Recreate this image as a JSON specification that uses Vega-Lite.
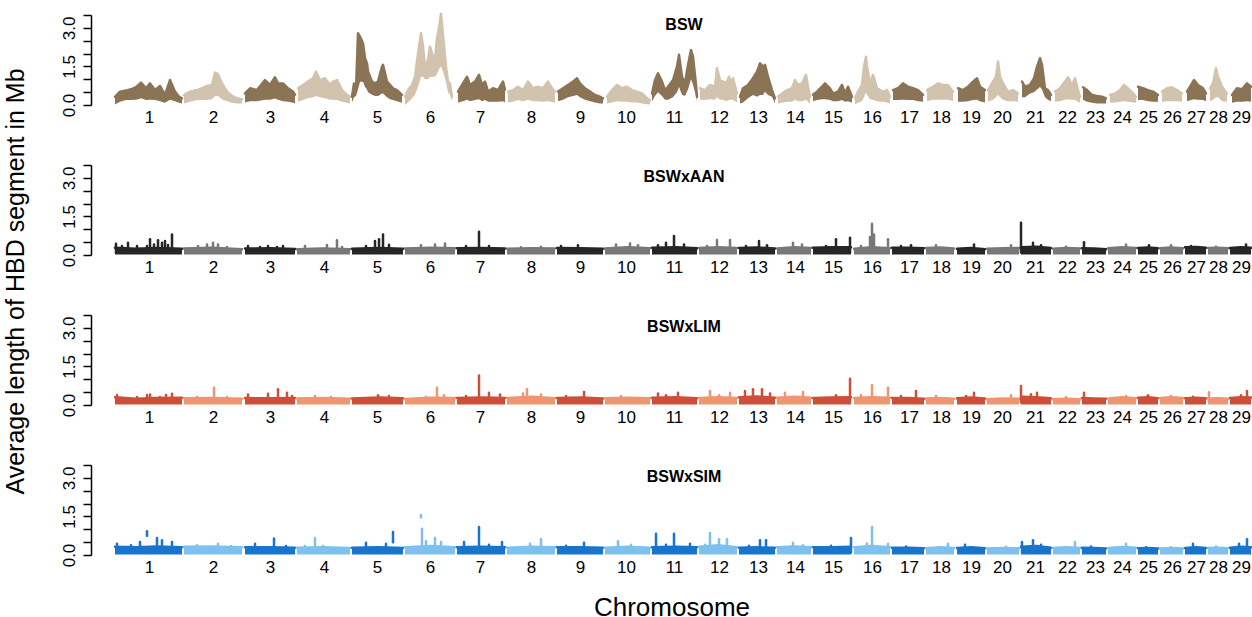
{
"$schema":"https://vega.github.io/schema/vega-lite/v6.json",
"background":"white",
"padding":{"left":3,"top":12,"right":0,"bottom":0},
"config":{"font":"Liberation Sans","view":{"stroke":null},"concat":{"spacing":39},
"axisX":{"title":null,"labelExpr":"indexof([58,122,179,233,286,339,389,440,489,535,583,628,667,704,742,781,818,850,880,911,944,976,1004,1031,1057,1081,1105,1127,1150], datum.value)+1","domain":false,"ticks":false,"grid":false,"labelPadding":4,"labelFontSize":17,"labelColor":"black","labelOverlap":false,"labelFlush":false,"labelBound":false},
"axisY":{"title":null,"labelExpr":"datum.value==0||datum.value==1.5||datum.value==3 ? format(datum.value,'.1f') : ''","labelAngle":-90,"labelAlign":"center","labelBaseline":"alphabetic","labelPadding":9,"labelFontSize":17,"labelColor":"black","tickSize":8,"tickWidth":1.5,"tickColor":"black","domainColor":"black","domainWidth":1.5,"grid":false}
},
"title":{"text":"Average length of HBD segment in Mb","orient":"left","anchor":"middle","frame":"bounds","fontSize":25,"fontWeight":"normal","color":"black","baseline":"alphabetic","offset":11,"dx":35,"dy":0},
"datasets":{
"bsw":[
{"c":1,"x":24,"hi":0.32,"lo":0.02},{"c":1,"x":29,"hi":0.52,"lo":0.13},{"c":1,"x":35,"hi":0.56,"lo":0.19},{"c":1,"x":40,"hi":0.61,"lo":0.19},{"c":1,"x":45,"hi":0.69,"lo":0.2},{"c":1,"x":50,"hi":0.87,"lo":0.26},{"c":1,"x":55,"hi":0.65,"lo":0.19},{"c":1,"x":59,"hi":0.84,"lo":0.2},{"c":1,"x":64,"hi":0.58,"lo":0.19},{"c":1,"x":69,"hi":0.74,"lo":0.15},{"c":1,"x":74,"hi":0.39,"lo":0.09},{"c":1,"x":79,"hi":0.97,"lo":0.2},{"c":1,"x":84,"hi":0.52,"lo":0.15},{"c":1,"x":88,"hi":0.32,"lo":0.09},{"c":1,"x":91,"hi":0.26,"lo":0.06},
{"c":2,"x":93,"hi":0.39,"lo":0.06},{"c":2,"x":99,"hi":0.52,"lo":0.13},{"c":2,"x":106,"hi":0.58,"lo":0.19},{"c":2,"x":111,"hi":0.65,"lo":0.19},{"c":2,"x":116,"hi":0.74,"lo":0.19},{"c":2,"x":121,"hi":0.78,"lo":0.22},{"c":2,"x":124,"hi":1.26,"lo":0.35},{"c":2,"x":127,"hi":1.2,"lo":0.35},{"c":2,"x":131,"hi":0.84,"lo":0.22},{"c":2,"x":136,"hi":0.52,"lo":0.15},{"c":2,"x":141,"hi":0.35,"lo":0.09},{"c":2,"x":146,"hi":0.26,"lo":0.06},{"c":2,"x":151,"hi":0.22,"lo":0.06},
{"c":3,"x":154,"hi":0.45,"lo":0.1},{"c":3,"x":159,"hi":0.65,"lo":0.15},{"c":3,"x":166,"hi":0.58,"lo":0.15},{"c":3,"x":174,"hi":0.97,"lo":0.2},{"c":3,"x":179,"hi":0.78,"lo":0.2},{"c":3,"x":184,"hi":1.08,"lo":0.25},{"c":3,"x":187,"hi":0.84,"lo":0.2},{"c":3,"x":192,"hi":0.84,"lo":0.15},{"c":3,"x":197,"hi":0.65,"lo":0.13},{"c":3,"x":202,"hi":0.52,"lo":0.09},{"c":3,"x":204,"hi":0.4,"lo":0.06},
{"c":4,"x":207,"hi":0.65,"lo":0.13},{"c":4,"x":212,"hi":0.78,"lo":0.19},{"c":4,"x":217,"hi":0.91,"lo":0.26},{"c":4,"x":222,"hi":1.04,"lo":0.3},{"c":4,"x":225,"hi":1.3,"lo":0.35},{"c":4,"x":229,"hi":0.97,"lo":0.3},{"c":4,"x":234,"hi":1.04,"lo":0.26},{"c":4,"x":239,"hi":0.78,"lo":0.2},{"c":4,"x":242,"hi":0.91,"lo":0.2},{"c":4,"x":246,"hi":0.97,"lo":0.19},{"c":4,"x":251,"hi":0.58,"lo":0.13},{"c":4,"x":256,"hi":0.39,"lo":0.09},{"c":4,"x":259,"hi":0.32,"lo":0.06},
{"c":5,"x":261,"hi":0.32,"lo":0.1},{"c":5,"x":263,"hi":0.84,"lo":0.3},{"c":5,"x":265,"hi":0.6,"lo":0.35},{"c":5,"x":267,"hi":2.79,"lo":0.6},{"c":5,"x":269,"hi":2.66,"lo":0.9},{"c":5,"x":272,"hi":2.4,"lo":0.9},{"c":5,"x":274,"hi":1.82,"lo":0.7},{"c":5,"x":276,"hi":1.62,"lo":0.6},{"c":5,"x":277,"hi":1.3,"lo":0.5},{"c":5,"x":281,"hi":0.91,"lo":0.4},{"c":5,"x":284,"hi":0.84,"lo":0.35},{"c":5,"x":287,"hi":0.91,"lo":0.35},{"c":5,"x":291,"hi":1.49,"lo":0.45},{"c":5,"x":292,"hi":1.56,"lo":0.45},{"c":5,"x":296,"hi":0.91,"lo":0.3},{"c":5,"x":299,"hi":0.78,"lo":0.22},{"c":5,"x":302,"hi":0.65,"lo":0.19},{"c":5,"x":306,"hi":0.58,"lo":0.15},{"c":5,"x":311,"hi":0.39,"lo":0.09},
{"c":6,"x":314,"hi":0.32,"lo":0.0},{"c":6,"x":317,"hi":0.58,"lo":0.1},{"c":6,"x":321,"hi":0.78,"lo":0.25},{"c":6,"x":324,"hi":1.1,"lo":0.4},{"c":6,"x":327,"hi":2.0,"lo":0.7},{"c":6,"x":330,"hi":2.79,"lo":1.1},{"c":6,"x":332,"hi":2.27,"lo":1.1},{"c":6,"x":334,"hi":1.49,"lo":1.0},{"c":6,"x":337,"hi":1.75,"lo":1.0},{"c":6,"x":339,"hi":2.27,"lo":1.1},{"c":6,"x":342,"hi":1.88,"lo":1.1},{"c":6,"x":344,"hi":1.82,"lo":1.1},{"c":6,"x":346,"hi":2.6,"lo":1.2},{"c":6,"x":348,"hi":2.98,"lo":1.4},{"c":6,"x":350,"hi":3.55,"lo":1.5},{"c":6,"x":352,"hi":2.72,"lo":1.3},{"c":6,"x":355,"hi":1.49,"lo":0.9},{"c":6,"x":357,"hi":0.91,"lo":0.5},{"c":6,"x":359,"hi":0.84,"lo":0.4},{"c":6,"x":361,"hi":0.32,"lo":0.15},
{"c":7,"x":367,"hi":0.52,"lo":0.1},{"c":7,"x":372,"hi":0.84,"lo":0.15},{"c":7,"x":376,"hi":1.1,"lo":0.2},{"c":7,"x":379,"hi":0.78,"lo":0.15},{"c":7,"x":384,"hi":0.91,"lo":0.19},{"c":7,"x":388,"hi":1.17,"lo":0.22},{"c":7,"x":391,"hi":0.78,"lo":0.15},{"c":7,"x":394,"hi":0.91,"lo":0.19},{"c":7,"x":397,"hi":0.52,"lo":0.13},{"c":7,"x":402,"hi":0.65,"lo":0.13},{"c":7,"x":407,"hi":0.58,"lo":0.13},{"c":7,"x":412,"hi":0.91,"lo":0.15},{"c":7,"x":414,"hi":0.6,"lo":0.1},
{"c":8,"x":417,"hi":0.52,"lo":0.1},{"c":8,"x":422,"hi":0.58,"lo":0.13},{"c":8,"x":427,"hi":0.71,"lo":0.19},{"c":8,"x":432,"hi":0.58,"lo":0.15},{"c":8,"x":437,"hi":0.91,"lo":0.2},{"c":8,"x":442,"hi":0.65,"lo":0.15},{"c":8,"x":447,"hi":0.71,"lo":0.15},{"c":8,"x":452,"hi":0.65,"lo":0.13},{"c":8,"x":457,"hi":0.91,"lo":0.15},{"c":8,"x":461,"hi":0.65,"lo":0.12},{"c":8,"x":464,"hi":0.52,"lo":0.09},
{"c":9,"x":467,"hi":0.52,"lo":0.15},{"c":9,"x":472,"hi":0.65,"lo":0.2},{"c":9,"x":477,"hi":0.78,"lo":0.3},{"c":9,"x":482,"hi":0.91,"lo":0.35},{"c":9,"x":486,"hi":1.04,"lo":0.39},{"c":9,"x":489,"hi":0.84,"lo":0.3},{"c":9,"x":494,"hi":0.65,"lo":0.2},{"c":9,"x":499,"hi":0.52,"lo":0.15},{"c":9,"x":504,"hi":0.39,"lo":0.1},{"c":9,"x":509,"hi":0.32,"lo":0.06},{"c":9,"x":512,"hi":0.26,"lo":0.06},
{"c":10,"x":516,"hi":0.32,"lo":0.06},{"c":10,"x":521,"hi":0.58,"lo":0.1},{"c":10,"x":526,"hi":0.78,"lo":0.15},{"c":10,"x":531,"hi":0.65,"lo":0.13},{"c":10,"x":536,"hi":0.71,"lo":0.13},{"c":10,"x":541,"hi":0.58,"lo":0.1},{"c":10,"x":546,"hi":0.52,"lo":0.1},{"c":10,"x":551,"hi":0.45,"lo":0.06},{"c":10,"x":556,"hi":0.26,"lo":0.03},{"c":10,"x":559,"hi":0.19,"lo":0.02},
{"c":11,"x":561,"hi":0.45,"lo":0.15},{"c":11,"x":564,"hi":0.97,"lo":0.35},{"c":11,"x":567,"hi":1.23,"lo":0.5},{"c":11,"x":571,"hi":0.91,"lo":0.35},{"c":11,"x":574,"hi":0.58,"lo":0.2},{"c":11,"x":577,"hi":0.71,"lo":0.2},{"c":11,"x":582,"hi":0.97,"lo":0.3},{"c":11,"x":586,"hi":1.49,"lo":0.5},{"c":11,"x":588,"hi":1.95,"lo":0.7},{"c":11,"x":591,"hi":1.1,"lo":0.4},{"c":11,"x":594,"hi":0.84,"lo":0.35},{"c":11,"x":597,"hi":1.56,"lo":0.6},{"c":11,"x":600,"hi":2.14,"lo":1.0},{"c":11,"x":602,"hi":1.88,"lo":0.8},{"c":11,"x":605,"hi":0.78,"lo":0.35},{"c":11,"x":606,"hi":0.32,"lo":0.15},
{"c":12,"x":609,"hi":0.65,"lo":0.2},{"c":12,"x":614,"hi":0.58,"lo":0.19},{"c":12,"x":619,"hi":0.78,"lo":0.22},{"c":12,"x":624,"hi":0.71,"lo":0.2},{"c":12,"x":626,"hi":1.43,"lo":0.3},{"c":12,"x":629,"hi":0.97,"lo":0.2},{"c":12,"x":632,"hi":0.91,"lo":0.2},{"c":12,"x":635,"hi":0.84,"lo":0.15},{"c":12,"x":638,"hi":1.1,"lo":0.19},{"c":12,"x":640,"hi":0.84,"lo":0.2},{"c":12,"x":642,"hi":1.04,"lo":0.2},{"c":12,"x":646,"hi":0.45,"lo":0.1},
{"c":13,"x":649,"hi":0.32,"lo":0.06},{"c":13,"x":652,"hi":0.65,"lo":0.1},{"c":13,"x":657,"hi":0.78,"lo":0.26},{"c":13,"x":662,"hi":1.04,"lo":0.39},{"c":13,"x":666,"hi":1.3,"lo":0.32},{"c":13,"x":669,"hi":1.62,"lo":0.39},{"c":13,"x":672,"hi":1.49,"lo":0.39},{"c":13,"x":674,"hi":1.56,"lo":0.52},{"c":13,"x":677,"hi":1.1,"lo":0.39},{"c":13,"x":681,"hi":0.58,"lo":0.32},{"c":13,"x":684,"hi":0.26,"lo":0.06},
{"c":14,"x":687,"hi":0.32,"lo":0.06},{"c":14,"x":691,"hi":0.45,"lo":0.09},{"c":14,"x":696,"hi":0.58,"lo":0.13},{"c":14,"x":701,"hi":0.65,"lo":0.13},{"c":14,"x":704,"hi":0.97,"lo":0.2},{"c":14,"x":707,"hi":0.78,"lo":0.15},{"c":14,"x":711,"hi":0.84,"lo":0.15},{"c":14,"x":715,"hi":1.17,"lo":0.2},{"c":14,"x":717,"hi":0.71,"lo":0.13},{"c":14,"x":719,"hi":0.32,"lo":0.06},
{"c":15,"x":722,"hi":0.4,"lo":0.15},{"c":15,"x":726,"hi":0.52,"lo":0.19},{"c":15,"x":731,"hi":0.71,"lo":0.22},{"c":15,"x":734,"hi":0.84,"lo":0.22},{"c":15,"x":739,"hi":0.65,"lo":0.19},{"c":15,"x":742,"hi":0.45,"lo":0.15},{"c":15,"x":747,"hi":0.52,"lo":0.15},{"c":15,"x":751,"hi":0.78,"lo":0.19},{"c":15,"x":754,"hi":0.45,"lo":0.13},{"c":15,"x":757,"hi":0.71,"lo":0.15},{"c":15,"x":761,"hi":0.32,"lo":0.09},
{"c":16,"x":764,"hi":0.26,"lo":0.03},{"c":16,"x":767,"hi":0.52,"lo":0.09},{"c":16,"x":771,"hi":0.78,"lo":0.15},{"c":16,"x":773,"hi":1.49,"lo":0.3},{"c":16,"x":775,"hi":1.88,"lo":0.5},{"c":16,"x":776,"hi":1.49,"lo":0.4},{"c":16,"x":779,"hi":0.84,"lo":0.22},{"c":16,"x":782,"hi":1.17,"lo":0.2},{"c":16,"x":786,"hi":0.65,"lo":0.15},{"c":16,"x":789,"hi":0.58,"lo":0.13},{"c":16,"x":792,"hi":0.52,"lo":0.13},{"c":16,"x":796,"hi":0.58,"lo":0.1},{"c":16,"x":799,"hi":0.32,"lo":0.06},
{"c":17,"x":802,"hi":0.58,"lo":0.19},{"c":17,"x":807,"hi":0.65,"lo":0.19},{"c":17,"x":812,"hi":0.84,"lo":0.2},{"c":17,"x":817,"hi":0.71,"lo":0.19},{"c":17,"x":822,"hi":0.65,"lo":0.19},{"c":17,"x":827,"hi":0.58,"lo":0.15},{"c":17,"x":832,"hi":0.39,"lo":0.13},
{"c":18,"x":836,"hi":0.58,"lo":0.15},{"c":18,"x":842,"hi":0.71,"lo":0.2},{"c":18,"x":847,"hi":0.84,"lo":0.2},{"c":18,"x":852,"hi":0.78,"lo":0.2},{"c":18,"x":857,"hi":0.78,"lo":0.2},{"c":18,"x":862,"hi":0.52,"lo":0.15},
{"c":19,"x":867,"hi":0.65,"lo":0.13},{"c":19,"x":872,"hi":0.58,"lo":0.13},{"c":19,"x":877,"hi":0.71,"lo":0.15},{"c":19,"x":882,"hi":0.91,"lo":0.19},{"c":19,"x":886,"hi":1.04,"lo":0.2},{"c":19,"x":889,"hi":0.71,"lo":0.15},{"c":19,"x":894,"hi":0.58,"lo":0.1},
{"c":20,"x":897,"hi":0.58,"lo":0.13},{"c":20,"x":902,"hi":0.91,"lo":0.2},{"c":20,"x":905,"hi":1.1,"lo":0.3},{"c":20,"x":907,"hi":1.69,"lo":0.4},{"c":20,"x":909,"hi":1.1,"lo":0.3},{"c":20,"x":912,"hi":0.84,"lo":0.2},{"c":20,"x":917,"hi":0.52,"lo":0.15},{"c":20,"x":922,"hi":0.58,"lo":0.15},{"c":20,"x":927,"hi":0.45,"lo":0.13},
{"c":21,"x":931,"hi":0.91,"lo":0.3},{"c":21,"x":934,"hi":0.71,"lo":0.3},{"c":21,"x":939,"hi":0.78,"lo":0.45},{"c":21,"x":943,"hi":1.04,"lo":0.5},{"c":21,"x":946,"hi":1.49,"lo":0.6},{"c":21,"x":949,"hi":1.82,"lo":0.7},{"c":21,"x":951,"hi":1.56,"lo":0.6},{"c":21,"x":954,"hi":0.65,"lo":0.3},{"c":21,"x":957,"hi":0.58,"lo":0.2},{"c":21,"x":960,"hi":0.39,"lo":0.15},
{"c":22,"x":964,"hi":0.52,"lo":0.13},{"c":22,"x":969,"hi":0.65,"lo":0.15},{"c":22,"x":974,"hi":0.91,"lo":0.2},{"c":22,"x":977,"hi":1.08,"lo":0.22},{"c":22,"x":981,"hi":0.78,"lo":0.2},{"c":22,"x":984,"hi":1.04,"lo":0.2},{"c":22,"x":987,"hi":0.58,"lo":0.13},{"c":22,"x":989,"hi":0.32,"lo":0.09},
{"c":23,"x":992,"hi":0.69,"lo":0.2},{"c":23,"x":996,"hi":0.58,"lo":0.13},{"c":23,"x":1001,"hi":0.39,"lo":0.09},{"c":23,"x":1006,"hi":0.35,"lo":0.06},{"c":23,"x":1011,"hi":0.32,"lo":0.06},{"c":23,"x":1015,"hi":0.26,"lo":0.06},
{"c":24,"x":1019,"hi":0.39,"lo":0.09},{"c":24,"x":1024,"hi":0.45,"lo":0.1},{"c":24,"x":1029,"hi":0.58,"lo":0.13},{"c":24,"x":1033,"hi":0.78,"lo":0.15},{"c":24,"x":1037,"hi":0.65,"lo":0.13},{"c":24,"x":1042,"hi":0.45,"lo":0.1},{"c":24,"x":1045,"hi":0.32,"lo":0.09},
{"c":25,"x":1047,"hi":0.71,"lo":0.19},{"c":25,"x":1052,"hi":0.65,"lo":0.19},{"c":25,"x":1057,"hi":0.58,"lo":0.15},{"c":25,"x":1062,"hi":0.52,"lo":0.13},{"c":25,"x":1067,"hi":0.39,"lo":0.13},
{"c":26,"x":1071,"hi":0.52,"lo":0.13},{"c":26,"x":1076,"hi":0.65,"lo":0.15},{"c":26,"x":1081,"hi":0.69,"lo":0.15},{"c":26,"x":1086,"hi":0.58,"lo":0.15},{"c":26,"x":1091,"hi":0.45,"lo":0.13},
{"c":27,"x":1096,"hi":0.52,"lo":0.15},{"c":27,"x":1101,"hi":0.84,"lo":0.2},{"c":27,"x":1103,"hi":0.97,"lo":0.22},{"c":27,"x":1107,"hi":0.78,"lo":0.2},{"c":27,"x":1112,"hi":0.65,"lo":0.19},{"c":27,"x":1115,"hi":0.45,"lo":0.15},
{"c":28,"x":1119,"hi":0.65,"lo":0.15},{"c":28,"x":1122,"hi":0.84,"lo":0.2},{"c":28,"x":1125,"hi":1.43,"lo":0.3},{"c":28,"x":1127,"hi":1.1,"lo":0.3},{"c":28,"x":1131,"hi":0.71,"lo":0.15},{"c":28,"x":1136,"hi":0.45,"lo":0.13},
{"c":29,"x":1141,"hi":0.39,"lo":0.09},{"c":29,"x":1146,"hi":0.65,"lo":0.13},{"c":29,"x":1151,"hi":0.61,"lo":0.13},{"c":29,"x":1156,"hi":0.84,"lo":0.15},{"c":29,"x":1160,"hi":0.71,"lo":0.13}
],
"aan":[
{"c":1,"x":24,"hi":0.28,"lo":0.02},{"c":1,"x":45,"hi":0.24,"lo":0.02},{"c":1,"x":65,"hi":0.27,"lo":0.02},{"c":1,"x":91,"hi":0.24,"lo":0.02},
{"c":2,"x":93,"hi":0.25,"lo":0.02},{"c":2,"x":120,"hi":0.28,"lo":0.02},{"c":2,"x":151,"hi":0.22,"lo":0.02},
{"c":3,"x":154,"hi":0.25,"lo":0.02},{"c":3,"x":180,"hi":0.26,"lo":0.02},{"c":3,"x":204,"hi":0.23,"lo":0.02},
{"c":4,"x":206,"hi":0.22,"lo":0.02},{"c":4,"x":232,"hi":0.25,"lo":0.02},{"c":4,"x":259,"hi":0.22,"lo":0.02},
{"c":5,"x":261,"hi":0.24,"lo":0.02},{"c":5,"x":288,"hi":0.27,"lo":0.02},{"c":5,"x":312,"hi":0.24,"lo":0.02},
{"c":6,"x":314,"hi":0.25,"lo":0.02},{"c":6,"x":340,"hi":0.28,"lo":0.02},{"c":6,"x":364,"hi":0.26,"lo":0.02},
{"c":7,"x":366,"hi":0.26,"lo":0.02},{"c":7,"x":390,"hi":0.27,"lo":0.02},{"c":7,"x":414,"hi":0.25,"lo":0.02},
{"c":8,"x":416,"hi":0.24,"lo":0.02},{"c":8,"x":440,"hi":0.26,"lo":0.02},{"c":8,"x":464,"hi":0.25,"lo":0.02},
{"c":9,"x":466,"hi":0.27,"lo":0.02},{"c":9,"x":490,"hi":0.26,"lo":0.02},{"c":9,"x":512,"hi":0.24,"lo":0.02},
{"c":10,"x":514,"hi":0.25,"lo":0.02},{"c":10,"x":537,"hi":0.3,"lo":0.02},{"c":10,"x":559,"hi":0.26,"lo":0.02},
{"c":11,"x":561,"hi":0.28,"lo":0.02},{"c":11,"x":585,"hi":0.3,"lo":0.02},{"c":11,"x":606,"hi":0.26,"lo":0.02},
{"c":12,"x":608,"hi":0.27,"lo":0.02},{"c":12,"x":627,"hi":0.3,"lo":0.02},{"c":12,"x":646,"hi":0.27,"lo":0.02},
{"c":13,"x":648,"hi":0.27,"lo":0.02},{"c":13,"x":666,"hi":0.29,"lo":0.02},{"c":13,"x":684,"hi":0.25,"lo":0.02},
{"c":14,"x":686,"hi":0.25,"lo":0.02},{"c":14,"x":703,"hi":0.3,"lo":0.02},{"c":14,"x":720,"hi":0.27,"lo":0.02},
{"c":15,"x":722,"hi":0.28,"lo":0.02},{"c":15,"x":741,"hi":0.3,"lo":0.02},{"c":15,"x":760,"hi":0.3,"lo":0.02},
{"c":16,"x":763,"hi":0.24,"lo":0.02},{"c":16,"x":781,"hi":0.3,"lo":0.02},{"c":16,"x":799,"hi":0.26,"lo":0.02},
{"c":17,"x":801,"hi":0.28,"lo":0.02},{"c":17,"x":817,"hi":0.28,"lo":0.02},{"c":17,"x":833,"hi":0.26,"lo":0.02},
{"c":18,"x":835,"hi":0.27,"lo":0.02},{"c":18,"x":849,"hi":0.29,"lo":0.02},{"c":18,"x":863,"hi":0.25,"lo":0.02},
{"c":19,"x":866,"hi":0.24,"lo":0.02},{"c":19,"x":880,"hi":0.27,"lo":0.02},{"c":19,"x":894,"hi":0.22,"lo":0.02},
{"c":20,"x":896,"hi":0.24,"lo":0.02},{"c":20,"x":912,"hi":0.26,"lo":0.02},{"c":20,"x":928,"hi":0.27,"lo":0.02},
{"c":21,"x":930,"hi":0.3,"lo":0.02},{"c":21,"x":945,"hi":0.32,"lo":0.02},{"c":21,"x":960,"hi":0.27,"lo":0.02},
{"c":22,"x":962,"hi":0.24,"lo":0.02},{"c":22,"x":975,"hi":0.27,"lo":0.02},{"c":22,"x":989,"hi":0.25,"lo":0.02},
{"c":23,"x":991,"hi":0.26,"lo":0.02},{"c":23,"x":1003,"hi":0.25,"lo":0.02},{"c":23,"x":1015,"hi":0.22,"lo":0.02},
{"c":24,"x":1017,"hi":0.26,"lo":0.02},{"c":24,"x":1031,"hi":0.3,"lo":0.02},{"c":24,"x":1045,"hi":0.27,"lo":0.02},
{"c":25,"x":1047,"hi":0.27,"lo":0.02},{"c":25,"x":1057,"hi":0.29,"lo":0.02},{"c":25,"x":1067,"hi":0.26,"lo":0.02},
{"c":26,"x":1069,"hi":0.26,"lo":0.02},{"c":26,"x":1080,"hi":0.29,"lo":0.02},{"c":26,"x":1092,"hi":0.26,"lo":0.02},
{"c":27,"x":1094,"hi":0.3,"lo":0.02},{"c":27,"x":1105,"hi":0.31,"lo":0.02},{"c":27,"x":1115,"hi":0.28,"lo":0.02},
{"c":28,"x":1117,"hi":0.27,"lo":0.02},{"c":28,"x":1127,"hi":0.28,"lo":0.02},{"c":28,"x":1137,"hi":0.26,"lo":0.02},
{"c":29,"x":1139,"hi":0.27,"lo":0.02},{"c":29,"x":1150,"hi":0.3,"lo":0.02},{"c":29,"x":1160,"hi":0.28,"lo":0.02}
],
"aanS":[
{"c":1,"x":25,"hi":0.44,"lo":0.1},{"c":1,"x":31,"hi":0.35,"lo":0.1},{"c":1,"x":37,"hi":0.48,"lo":0.1},{"c":1,"x":46,"hi":0.35,"lo":0.1},{"c":1,"x":56,"hi":0.35,"lo":0.1},{"c":1,"x":59,"hi":0.61,"lo":0.1},{"c":1,"x":63,"hi":0.41,"lo":0.1},{"c":1,"x":67,"hi":0.57,"lo":0.1},{"c":1,"x":71,"hi":0.48,"lo":0.1},{"c":1,"x":74,"hi":0.54,"lo":0.1},{"c":1,"x":77,"hi":0.39,"lo":0.1},{"c":1,"x":81,"hi":0.8,"lo":0.1},
{"c":2,"x":107,"hi":0.35,"lo":0.1},{"c":2,"x":116,"hi":0.41,"lo":0.1},{"c":2,"x":122,"hi":0.48,"lo":0.1},{"c":2,"x":127,"hi":0.41,"lo":0.1},{"c":2,"x":136,"hi":0.31,"lo":0.1},
{"c":3,"x":157,"hi":0.35,"lo":0.1},{"c":3,"x":169,"hi":0.31,"lo":0.1},{"c":3,"x":177,"hi":0.35,"lo":0.1},{"c":3,"x":186,"hi":0.31,"lo":0.1},{"c":3,"x":192,"hi":0.35,"lo":0.1},
{"c":4,"x":214,"hi":0.35,"lo":0.1},{"c":4,"x":236,"hi":0.39,"lo":0.1},{"c":4,"x":246,"hi":0.57,"lo":0.1},{"c":4,"x":251,"hi":0.31,"lo":0.1},
{"c":5,"x":275,"hi":0.35,"lo":0.1},{"c":5,"x":284,"hi":0.54,"lo":0.1},{"c":5,"x":288,"hi":0.61,"lo":0.1},{"c":5,"x":292,"hi":0.8,"lo":0.1},{"c":5,"x":298,"hi":0.4,"lo":0.1},
{"c":6,"x":330,"hi":0.38,"lo":0.1},{"c":6,"x":344,"hi":0.41,"lo":0.1},{"c":6,"x":354,"hi":0.45,"lo":0.1},
{"c":7,"x":375,"hi":0.35,"lo":0.1},{"c":7,"x":388,"hi":0.9,"lo":0.1},{"c":7,"x":398,"hi":0.35,"lo":0.1},
{"c":8,"x":430,"hi":0.3,"lo":0.1},{"c":8,"x":450,"hi":0.32,"lo":0.1},
{"c":9,"x":470,"hi":0.35,"lo":0.1},{"c":9,"x":487,"hi":0.38,"lo":0.1},
{"c":10,"x":525,"hi":0.41,"lo":0.1},{"c":10,"x":539,"hi":0.45,"lo":0.1},{"c":10,"x":547,"hi":0.38,"lo":0.1},
{"c":11,"x":567,"hi":0.38,"lo":0.1},{"c":11,"x":575,"hi":0.48,"lo":0.1},{"c":11,"x":583,"hi":0.74,"lo":0.1},{"c":11,"x":593,"hi":0.41,"lo":0.1},
{"c":12,"x":616,"hi":0.35,"lo":0.1},{"c":12,"x":626,"hi":0.58,"lo":0.1},{"c":12,"x":639,"hi":0.58,"lo":0.1},
{"c":13,"x":655,"hi":0.35,"lo":0.1},{"c":13,"x":668,"hi":0.54,"lo":0.1},{"c":13,"x":676,"hi":0.38,"lo":0.1},
{"c":14,"x":702,"hi":0.48,"lo":0.1},{"c":14,"x":711,"hi":0.41,"lo":0.1},
{"c":15,"x":735,"hi":0.35,"lo":0.1},{"c":15,"x":745,"hi":0.61,"lo":0.1},{"c":15,"x":759,"hi":0.67,"lo":0.1},
{"c":16,"x":770,"hi":0.35,"lo":0.1},{"c":16,"x":779,"hi":0.7,"lo":0.1},{"c":16,"x":781,"hi":1.22,"lo":0.1},{"c":16,"x":783,"hi":0.8,"lo":0.1},{"c":16,"x":797,"hi":0.61,"lo":0.1},
{"c":17,"x":810,"hi":0.35,"lo":0.1},{"c":17,"x":820,"hi":0.38,"lo":0.1},
{"c":18,"x":845,"hi":0.38,"lo":0.1},
{"c":19,"x":883,"hi":0.41,"lo":0.1},
{"c":20,"x":920,"hi":0.38,"lo":0.1},
{"c":21,"x":930,"hi":1.25,"lo":0.1},{"c":21,"x":942,"hi":0.48,"lo":0.1},{"c":21,"x":950,"hi":0.38,"lo":0.1},
{"c":22,"x":975,"hi":0.32,"lo":0.1},
{"c":23,"x":993,"hi":0.5,"lo":0.1},
{"c":24,"x":1035,"hi":0.41,"lo":0.1},
{"c":25,"x":1058,"hi":0.38,"lo":0.1},
{"c":26,"x":1080,"hi":0.38,"lo":0.1},
{"c":27,"x":1100,"hi":0.35,"lo":0.1},
{"c":28,"x":1125,"hi":0.32,"lo":0.1},
{"c":29,"x":1155,"hi":0.41,"lo":0.1}
],
"lim":[
{"c":1,"x":24,"hi":0.3,"lo":0.02},{"c":1,"x":45,"hi":0.24,"lo":0.02},{"c":1,"x":65,"hi":0.27,"lo":0.02},{"c":1,"x":91,"hi":0.28,"lo":0.02},
{"c":2,"x":93,"hi":0.26,"lo":0.02},{"c":2,"x":120,"hi":0.27,"lo":0.02},{"c":2,"x":151,"hi":0.24,"lo":0.02},
{"c":3,"x":154,"hi":0.27,"lo":0.02},{"c":3,"x":180,"hi":0.26,"lo":0.02},{"c":3,"x":204,"hi":0.27,"lo":0.02},
{"c":4,"x":206,"hi":0.25,"lo":0.02},{"c":4,"x":232,"hi":0.27,"lo":0.02},{"c":4,"x":259,"hi":0.24,"lo":0.02},
{"c":5,"x":261,"hi":0.25,"lo":0.02},{"c":5,"x":288,"hi":0.29,"lo":0.02},{"c":5,"x":312,"hi":0.26,"lo":0.02},
{"c":6,"x":314,"hi":0.23,"lo":0.02},{"c":6,"x":340,"hi":0.28,"lo":0.02},{"c":6,"x":364,"hi":0.27,"lo":0.02},
{"c":7,"x":366,"hi":0.27,"lo":0.02},{"c":7,"x":390,"hi":0.29,"lo":0.02},{"c":7,"x":414,"hi":0.27,"lo":0.02},
{"c":8,"x":416,"hi":0.27,"lo":0.02},{"c":8,"x":440,"hi":0.32,"lo":0.02},{"c":8,"x":464,"hi":0.26,"lo":0.02},
{"c":9,"x":466,"hi":0.27,"lo":0.02},{"c":9,"x":490,"hi":0.29,"lo":0.02},{"c":9,"x":512,"hi":0.25,"lo":0.02},
{"c":10,"x":514,"hi":0.26,"lo":0.02},{"c":10,"x":537,"hi":0.28,"lo":0.02},{"c":10,"x":559,"hi":0.26,"lo":0.02},
{"c":11,"x":561,"hi":0.28,"lo":0.02},{"c":11,"x":585,"hi":0.3,"lo":0.02},{"c":11,"x":606,"hi":0.26,"lo":0.02},
{"c":12,"x":608,"hi":0.27,"lo":0.02},{"c":12,"x":627,"hi":0.3,"lo":0.02},{"c":12,"x":646,"hi":0.27,"lo":0.02},
{"c":13,"x":648,"hi":0.3,"lo":0.02},{"c":13,"x":666,"hi":0.33,"lo":0.02},{"c":13,"x":684,"hi":0.28,"lo":0.02},
{"c":14,"x":686,"hi":0.28,"lo":0.02},{"c":14,"x":703,"hi":0.32,"lo":0.02},{"c":14,"x":720,"hi":0.28,"lo":0.02},
{"c":15,"x":722,"hi":0.27,"lo":0.02},{"c":15,"x":741,"hi":0.29,"lo":0.02},{"c":15,"x":760,"hi":0.3,"lo":0.02},
{"c":16,"x":763,"hi":0.27,"lo":0.02},{"c":16,"x":781,"hi":0.3,"lo":0.02},{"c":16,"x":799,"hi":0.28,"lo":0.02},
{"c":17,"x":801,"hi":0.27,"lo":0.02},{"c":17,"x":817,"hi":0.27,"lo":0.02},{"c":17,"x":833,"hi":0.24,"lo":0.02},
{"c":18,"x":835,"hi":0.25,"lo":0.02},{"c":18,"x":849,"hi":0.27,"lo":0.02},{"c":18,"x":863,"hi":0.24,"lo":0.02},
{"c":19,"x":866,"hi":0.26,"lo":0.02},{"c":19,"x":880,"hi":0.29,"lo":0.02},{"c":19,"x":894,"hi":0.25,"lo":0.02},
{"c":20,"x":896,"hi":0.22,"lo":0.02},{"c":20,"x":912,"hi":0.25,"lo":0.02},{"c":20,"x":928,"hi":0.24,"lo":0.02},
{"c":21,"x":930,"hi":0.32,"lo":0.02},{"c":21,"x":945,"hi":0.3,"lo":0.02},{"c":21,"x":960,"hi":0.26,"lo":0.02},
{"c":22,"x":962,"hi":0.22,"lo":0.02},{"c":22,"x":975,"hi":0.24,"lo":0.02},{"c":22,"x":989,"hi":0.22,"lo":0.02},
{"c":23,"x":991,"hi":0.27,"lo":0.02},{"c":23,"x":1003,"hi":0.25,"lo":0.02},{"c":23,"x":1015,"hi":0.24,"lo":0.02},
{"c":24,"x":1017,"hi":0.25,"lo":0.02},{"c":24,"x":1031,"hi":0.3,"lo":0.02},{"c":24,"x":1045,"hi":0.26,"lo":0.02},
{"c":25,"x":1047,"hi":0.28,"lo":0.02},{"c":25,"x":1057,"hi":0.3,"lo":0.02},{"c":25,"x":1067,"hi":0.26,"lo":0.02},
{"c":26,"x":1069,"hi":0.27,"lo":0.02},{"c":26,"x":1080,"hi":0.3,"lo":0.02},{"c":26,"x":1092,"hi":0.27,"lo":0.02},
{"c":27,"x":1094,"hi":0.26,"lo":0.02},{"c":27,"x":1105,"hi":0.28,"lo":0.02},{"c":27,"x":1115,"hi":0.26,"lo":0.02},
{"c":28,"x":1117,"hi":0.25,"lo":0.02},{"c":28,"x":1127,"hi":0.26,"lo":0.02},{"c":28,"x":1137,"hi":0.24,"lo":0.02},
{"c":29,"x":1139,"hi":0.27,"lo":0.02},{"c":29,"x":1150,"hi":0.3,"lo":0.02},{"c":29,"x":1160,"hi":0.29,"lo":0.02}
],
"limS":[
{"c":1,"x":26,"hi":0.39,"lo":0.1},{"c":1,"x":46,"hi":0.31,"lo":0.1},{"c":1,"x":56,"hi":0.39,"lo":0.1},{"c":1,"x":59,"hi":0.41,"lo":0.1},{"c":1,"x":69,"hi":0.31,"lo":0.1},{"c":1,"x":75,"hi":0.39,"lo":0.1},{"c":1,"x":81,"hi":0.44,"lo":0.1},
{"c":2,"x":106,"hi":0.31,"lo":0.1},{"c":2,"x":123,"hi":0.67,"lo":0.1},{"c":2,"x":136,"hi":0.31,"lo":0.1},
{"c":3,"x":157,"hi":0.41,"lo":0.1},{"c":3,"x":177,"hi":0.44,"lo":0.1},{"c":3,"x":187,"hi":0.61,"lo":0.1},{"c":3,"x":196,"hi":0.48,"lo":0.1},{"c":3,"x":201,"hi":0.35,"lo":0.1},
{"c":4,"x":224,"hi":0.35,"lo":0.1},{"c":4,"x":240,"hi":0.31,"lo":0.1},
{"c":5,"x":287,"hi":0.38,"lo":0.1},{"c":5,"x":298,"hi":0.35,"lo":0.1},
{"c":6,"x":335,"hi":0.32,"lo":0.1},{"c":6,"x":346,"hi":0.67,"lo":0.1},{"c":6,"x":353,"hi":0.38,"lo":0.1},
{"c":7,"x":375,"hi":0.35,"lo":0.1},{"c":7,"x":388,"hi":1.15,"lo":0.1},{"c":7,"x":398,"hi":0.48,"lo":0.1},{"c":7,"x":409,"hi":0.41,"lo":0.1},
{"c":8,"x":432,"hi":0.45,"lo":0.1},{"c":8,"x":436,"hi":0.61,"lo":0.1},{"c":8,"x":450,"hi":0.41,"lo":0.1},
{"c":9,"x":475,"hi":0.35,"lo":0.1},{"c":9,"x":493,"hi":0.51,"lo":0.1},
{"c":10,"x":530,"hi":0.35,"lo":0.1},
{"c":11,"x":567,"hi":0.45,"lo":0.1},{"c":11,"x":575,"hi":0.38,"lo":0.1},{"c":11,"x":587,"hi":0.48,"lo":0.1},
{"c":12,"x":619,"hi":0.54,"lo":0.1},{"c":12,"x":628,"hi":0.38,"lo":0.1},{"c":12,"x":639,"hi":0.48,"lo":0.1},
{"c":13,"x":654,"hi":0.54,"lo":0.1},{"c":13,"x":662,"hi":0.61,"lo":0.1},{"c":13,"x":671,"hi":0.61,"lo":0.1},{"c":13,"x":679,"hi":0.45,"lo":0.1},
{"c":14,"x":694,"hi":0.48,"lo":0.1},{"c":14,"x":712,"hi":0.51,"lo":0.1},
{"c":15,"x":745,"hi":0.38,"lo":0.1},{"c":15,"x":759,"hi":1.02,"lo":0.1},
{"c":16,"x":770,"hi":0.38,"lo":0.1},{"c":16,"x":781,"hi":0.77,"lo":0.1},{"c":16,"x":797,"hi":0.67,"lo":0.1},
{"c":17,"x":810,"hi":0.35,"lo":0.1},{"c":17,"x":825,"hi":0.54,"lo":0.1},
{"c":18,"x":845,"hi":0.35,"lo":0.1},
{"c":19,"x":875,"hi":0.35,"lo":0.1},{"c":19,"x":883,"hi":0.48,"lo":0.1},
{"c":20,"x":920,"hi":0.38,"lo":0.1},
{"c":21,"x":930,"hi":0.74,"lo":0.1},{"c":21,"x":940,"hi":0.42,"lo":0.1},{"c":21,"x":946,"hi":0.48,"lo":0.1},
{"c":22,"x":975,"hi":0.3,"lo":0.1},
{"c":23,"x":993,"hi":0.48,"lo":0.1},
{"c":24,"x":1035,"hi":0.35,"lo":0.1},
{"c":25,"x":1057,"hi":0.38,"lo":0.1},
{"c":26,"x":1080,"hi":0.35,"lo":0.1},
{"c":27,"x":1102,"hi":0.32,"lo":0.1},
{"c":28,"x":1118,"hi":0.5,"lo":0.1},
{"c":29,"x":1150,"hi":0.38,"lo":0.1},{"c":29,"x":1156,"hi":0.54,"lo":0.1}
],
"sim":[
{"c":1,"x":24,"hi":0.32,"lo":0.02},{"c":1,"x":45,"hi":0.3,"lo":0.02},{"c":1,"x":65,"hi":0.33,"lo":0.02},{"c":1,"x":91,"hi":0.3,"lo":0.02},
{"c":2,"x":93,"hi":0.32,"lo":0.02},{"c":2,"x":120,"hi":0.33,"lo":0.02},{"c":2,"x":151,"hi":0.3,"lo":0.02},
{"c":3,"x":154,"hi":0.3,"lo":0.02},{"c":3,"x":180,"hi":0.3,"lo":0.02},{"c":3,"x":204,"hi":0.28,"lo":0.02},
{"c":4,"x":206,"hi":0.28,"lo":0.02},{"c":4,"x":232,"hi":0.3,"lo":0.02},{"c":4,"x":259,"hi":0.27,"lo":0.02},
{"c":5,"x":261,"hi":0.28,"lo":0.02},{"c":5,"x":288,"hi":0.3,"lo":0.02},{"c":5,"x":312,"hi":0.27,"lo":0.02},
{"c":6,"x":314,"hi":0.3,"lo":0.02},{"c":6,"x":340,"hi":0.35,"lo":0.02},{"c":6,"x":364,"hi":0.3,"lo":0.02},
{"c":7,"x":366,"hi":0.3,"lo":0.02},{"c":7,"x":390,"hi":0.32,"lo":0.02},{"c":7,"x":414,"hi":0.3,"lo":0.02},
{"c":8,"x":416,"hi":0.28,"lo":0.02},{"c":8,"x":440,"hi":0.32,"lo":0.02},{"c":8,"x":464,"hi":0.3,"lo":0.02},
{"c":9,"x":466,"hi":0.3,"lo":0.02},{"c":9,"x":490,"hi":0.3,"lo":0.02},{"c":9,"x":512,"hi":0.28,"lo":0.02},
{"c":10,"x":514,"hi":0.28,"lo":0.02},{"c":10,"x":537,"hi":0.32,"lo":0.02},{"c":10,"x":559,"hi":0.28,"lo":0.02},
{"c":11,"x":561,"hi":0.3,"lo":0.02},{"c":11,"x":585,"hi":0.32,"lo":0.02},{"c":11,"x":606,"hi":0.3,"lo":0.02},
{"c":12,"x":608,"hi":0.32,"lo":0.02},{"c":12,"x":627,"hi":0.38,"lo":0.02},{"c":12,"x":646,"hi":0.3,"lo":0.02},
{"c":13,"x":648,"hi":0.28,"lo":0.02},{"c":13,"x":666,"hi":0.3,"lo":0.02},{"c":13,"x":684,"hi":0.28,"lo":0.02},
{"c":14,"x":686,"hi":0.3,"lo":0.02},{"c":14,"x":703,"hi":0.33,"lo":0.02},{"c":14,"x":720,"hi":0.3,"lo":0.02},
{"c":15,"x":722,"hi":0.3,"lo":0.02},{"c":15,"x":741,"hi":0.3,"lo":0.02},{"c":15,"x":760,"hi":0.32,"lo":0.02},
{"c":16,"x":763,"hi":0.3,"lo":0.02},{"c":16,"x":781,"hi":0.35,"lo":0.02},{"c":16,"x":799,"hi":0.3,"lo":0.02},
{"c":17,"x":801,"hi":0.28,"lo":0.02},{"c":17,"x":817,"hi":0.28,"lo":0.02},{"c":17,"x":833,"hi":0.26,"lo":0.02},
{"c":18,"x":835,"hi":0.26,"lo":0.02},{"c":18,"x":849,"hi":0.3,"lo":0.02},{"c":18,"x":863,"hi":0.27,"lo":0.02},
{"c":19,"x":866,"hi":0.27,"lo":0.02},{"c":19,"x":880,"hi":0.3,"lo":0.02},{"c":19,"x":894,"hi":0.26,"lo":0.02},
{"c":20,"x":896,"hi":0.25,"lo":0.02},{"c":20,"x":912,"hi":0.27,"lo":0.02},{"c":20,"x":928,"hi":0.26,"lo":0.02},
{"c":21,"x":930,"hi":0.32,"lo":0.02},{"c":21,"x":945,"hi":0.35,"lo":0.02},{"c":21,"x":960,"hi":0.28,"lo":0.02},
{"c":22,"x":962,"hi":0.27,"lo":0.02},{"c":22,"x":975,"hi":0.3,"lo":0.02},{"c":22,"x":989,"hi":0.27,"lo":0.02},
{"c":23,"x":991,"hi":0.28,"lo":0.02},{"c":23,"x":1003,"hi":0.27,"lo":0.02},{"c":23,"x":1015,"hi":0.25,"lo":0.02},
{"c":24,"x":1017,"hi":0.27,"lo":0.02},{"c":24,"x":1031,"hi":0.31,"lo":0.02},{"c":24,"x":1045,"hi":0.28,"lo":0.02},
{"c":25,"x":1047,"hi":0.26,"lo":0.02},{"c":25,"x":1057,"hi":0.27,"lo":0.02},{"c":25,"x":1067,"hi":0.25,"lo":0.02},
{"c":26,"x":1069,"hi":0.25,"lo":0.02},{"c":26,"x":1080,"hi":0.27,"lo":0.02},{"c":26,"x":1092,"hi":0.25,"lo":0.02},
{"c":27,"x":1094,"hi":0.27,"lo":0.02},{"c":27,"x":1105,"hi":0.3,"lo":0.02},{"c":27,"x":1115,"hi":0.27,"lo":0.02},
{"c":28,"x":1117,"hi":0.27,"lo":0.02},{"c":28,"x":1127,"hi":0.28,"lo":0.02},{"c":28,"x":1137,"hi":0.26,"lo":0.02},
{"c":29,"x":1139,"hi":0.28,"lo":0.02},{"c":29,"x":1150,"hi":0.32,"lo":0.02},{"c":29,"x":1160,"hi":0.3,"lo":0.02}
],
"simS":[
{"c":1,"x":26,"hi":0.44,"lo":0.1},{"c":1,"x":40,"hi":0.38,"lo":0.1},{"c":1,"x":49,"hi":0.51,"lo":0.1},{"c":1,"x":56,"hi":0.92,"lo":0.75},{"c":1,"x":66,"hi":0.66,"lo":0.1},{"c":1,"x":71,"hi":0.57,"lo":0.1},{"c":1,"x":81,"hi":0.51,"lo":0.1},
{"c":2,"x":106,"hi":0.38,"lo":0.1},{"c":2,"x":127,"hi":0.44,"lo":0.1},{"c":2,"x":140,"hi":0.35,"lo":0.1},
{"c":3,"x":164,"hi":0.44,"lo":0.1},{"c":3,"x":183,"hi":0.64,"lo":0.1},{"c":3,"x":195,"hi":0.35,"lo":0.1},
{"c":4,"x":214,"hi":0.35,"lo":0.1},{"c":4,"x":224,"hi":0.66,"lo":0.1},{"c":4,"x":232,"hi":0.35,"lo":0.1},
{"c":5,"x":275,"hi":0.48,"lo":0.1},{"c":5,"x":295,"hi":0.44,"lo":0.1},{"c":5,"x":302,"hi":0.89,"lo":0.5},
{"c":6,"x":330,"hi":1.56,"lo":1.46},{"c":6,"x":331,"hi":1.02,"lo":0.1},{"c":6,"x":335,"hi":0.53,"lo":0.1},{"c":6,"x":344,"hi":0.66,"lo":0.1},{"c":6,"x":350,"hi":0.51,"lo":0.1},
{"c":7,"x":373,"hi":0.51,"lo":0.1},{"c":7,"x":388,"hi":1.09,"lo":0.1},{"c":7,"x":398,"hi":0.4,"lo":0.1},{"c":7,"x":411,"hi":0.51,"lo":0.1},
{"c":8,"x":439,"hi":0.44,"lo":0.1},{"c":8,"x":450,"hi":0.61,"lo":0.1},
{"c":9,"x":475,"hi":0.36,"lo":0.1},{"c":9,"x":493,"hi":0.48,"lo":0.1},
{"c":10,"x":527,"hi":0.53,"lo":0.1},{"c":10,"x":540,"hi":0.4,"lo":0.1},
{"c":11,"x":565,"hi":0.83,"lo":0.1},{"c":11,"x":575,"hi":0.4,"lo":0.1},{"c":11,"x":583,"hi":0.83,"lo":0.1},{"c":11,"x":599,"hi":0.44,"lo":0.1},
{"c":12,"x":614,"hi":0.4,"lo":0.1},{"c":12,"x":619,"hi":0.86,"lo":0.1},{"c":12,"x":628,"hi":0.61,"lo":0.1},{"c":12,"x":636,"hi":0.61,"lo":0.1},
{"c":13,"x":658,"hi":0.36,"lo":0.1},{"c":13,"x":669,"hi":0.57,"lo":0.1},{"c":13,"x":675,"hi":0.57,"lo":0.1},
{"c":14,"x":702,"hi":0.48,"lo":0.1},{"c":14,"x":712,"hi":0.38,"lo":0.1},
{"c":15,"x":740,"hi":0.36,"lo":0.1},{"c":15,"x":760,"hi":0.66,"lo":0.1},
{"c":16,"x":776,"hi":0.45,"lo":0.1},{"c":16,"x":781,"hi":1.09,"lo":0.1},{"c":16,"x":797,"hi":0.44,"lo":0.1},
{"c":17,"x":815,"hi":0.33,"lo":0.1},
{"c":18,"x":857,"hi":0.44,"lo":0.1},
{"c":19,"x":874,"hi":0.4,"lo":0.1},
{"c":20,"x":915,"hi":0.32,"lo":0.1},
{"c":21,"x":931,"hi":0.51,"lo":0.1},{"c":21,"x":942,"hi":0.57,"lo":0.1},{"c":21,"x":950,"hi":0.4,"lo":0.1},
{"c":22,"x":984,"hi":0.51,"lo":0.1},
{"c":23,"x":1000,"hi":0.33,"lo":0.1},
{"c":24,"x":1035,"hi":0.44,"lo":0.1},
{"c":25,"x":1055,"hi":0.3,"lo":0.1},
{"c":26,"x":1080,"hi":0.3,"lo":0.1},
{"c":27,"x":1102,"hi":0.44,"lo":0.1},
{"c":28,"x":1125,"hi":0.33,"lo":0.1},
{"c":29,"x":1148,"hi":0.44,"lo":0.1},{"c":29,"x":1156,"hi":0.61,"lo":0.1}
]
},
"vconcat":[
{"width":1161,"height":90,
"title":{"text":"BSW","fontSize":16,"fontWeight":"bold","anchor":"middle","frame":"group","offset":0,"dy":34,"dx":12.5,"baseline":"alphabetic","color":"black"},
"encoding":{
"x":{"field":"x","type":"quantitative","scale":{"domain":[0,1161],"nice":false,"zero":false},"axis":{"values":[58,122,179,233,286,339,389,440,489,535,583,628,667,704,742,781,818,850,880,911,944,976,1004,1031,1057,1081,1105,1127,1150]}},
"y":{"field":"hi","type":"quantitative","scale":{"domain":[0,3.5],"nice":false,"zero":false},"axis":{"values":[0,0.5,1,1.5,2,2.5,3,3.5]}},
"y2":{"field":"lo"},
"color":{"condition":{"test":"datum.c % 2 == 1","value":"#8B7355"},"value":"#D2C3AF"}},
"layer":[
{"data":{"name":"bsw"},"mark":{"type":"area","opacity":1,"line":{"strokeWidth":2.5,"strokeJoin":"round","strokeCap":"round"}},"encoding":{"detail":{"field":"c"}}}
]},
{"width":1161,"height":90,
"title":{"text":"BSWxAAN","fontSize":16,"fontWeight":"bold","anchor":"middle","frame":"group","offset":0,"dy":34,"dx":12.5,"baseline":"alphabetic","color":"black"},
"encoding":{
"x":{"field":"x","type":"quantitative","scale":{"domain":[0,1161],"nice":false,"zero":false},"axis":{"values":[58,122,179,233,286,339,389,440,489,535,583,628,667,704,742,781,818,850,880,911,944,976,1004,1031,1057,1081,1105,1127,1150]}},
"y":{"field":"hi","type":"quantitative","scale":{"domain":[0,3.5],"nice":false,"zero":false},"axis":{"values":[0,0.5,1,1.5,2,2.5,3,3.5]}},
"y2":{"field":"lo"},
"color":{"condition":{"test":"datum.c % 2 == 1","value":"#262626"},"value":"#787878"}},
"layer":[
{"data":{"name":"aan"},"mark":{"type":"area","opacity":1,"line":{"strokeWidth":2.5,"strokeJoin":"round","strokeCap":"round"}},"encoding":{"detail":{"field":"c"}}},
{"data":{"name":"aanS"},"mark":{"type":"rule","strokeWidth":2.5,"strokeCap":"round"}}
]},
{"width":1161,"height":90,
"title":{"text":"BSWxLIM","fontSize":16,"fontWeight":"bold","anchor":"middle","frame":"group","offset":0,"dy":34,"dx":12.5,"baseline":"alphabetic","color":"black"},
"encoding":{
"x":{"field":"x","type":"quantitative","scale":{"domain":[0,1161],"nice":false,"zero":false},"axis":{"values":[58,122,179,233,286,339,389,440,489,535,583,628,667,704,742,781,818,850,880,911,944,976,1004,1031,1057,1081,1105,1127,1150]}},
"y":{"field":"hi","type":"quantitative","scale":{"domain":[0,3.5],"nice":false,"zero":false},"axis":{"values":[0,0.5,1,1.5,2,2.5,3,3.5]}},
"y2":{"field":"lo"},
"color":{"condition":{"test":"datum.c % 2 == 1","value":"#CD4F39"},"value":"#EE9572"}},
"layer":[
{"data":{"name":"lim"},"mark":{"type":"area","opacity":1,"line":{"strokeWidth":2.5,"strokeJoin":"round","strokeCap":"round"}},"encoding":{"detail":{"field":"c"}}},
{"data":{"name":"limS"},"mark":{"type":"rule","strokeWidth":2.5,"strokeCap":"round"}}
]},
{"width":1161,"height":90,
"title":{"text":"BSWxSIM","fontSize":16,"fontWeight":"bold","anchor":"middle","frame":"group","offset":0,"dy":34,"dx":12.5,"baseline":"alphabetic","color":"black"},
"encoding":{
"x":{"field":"x","type":"quantitative","scale":{"domain":[0,1161],"nice":false,"zero":false},"axis":{"values":[58,122,179,233,286,339,389,440,489,535,583,628,667,704,742,781,818,850,880,911,944,976,1004,1031,1057,1081,1105,1127,1150],"title":"Chromosome","titleFontSize":26,"titleFontWeight":"normal","titleColor":"black","titlePadding":19.5}},
"y":{"field":"hi","type":"quantitative","scale":{"domain":[0,3.5],"nice":false,"zero":false},"axis":{"values":[0,0.5,1,1.5,2,2.5,3,3.5]}},
"y2":{"field":"lo"},
"color":{"condition":{"test":"datum.c % 2 == 1","value":"#1874CD"},"value":"#7EC0EE"}},
"layer":[
{"data":{"name":"sim"},"mark":{"type":"area","opacity":1,"line":{"strokeWidth":2.5,"strokeJoin":"round","strokeCap":"round"}},"encoding":{"detail":{"field":"c"}}},
{"data":{"name":"simS"},"mark":{"type":"rule","strokeWidth":2.5,"strokeCap":"round"}}
]}
]
}
